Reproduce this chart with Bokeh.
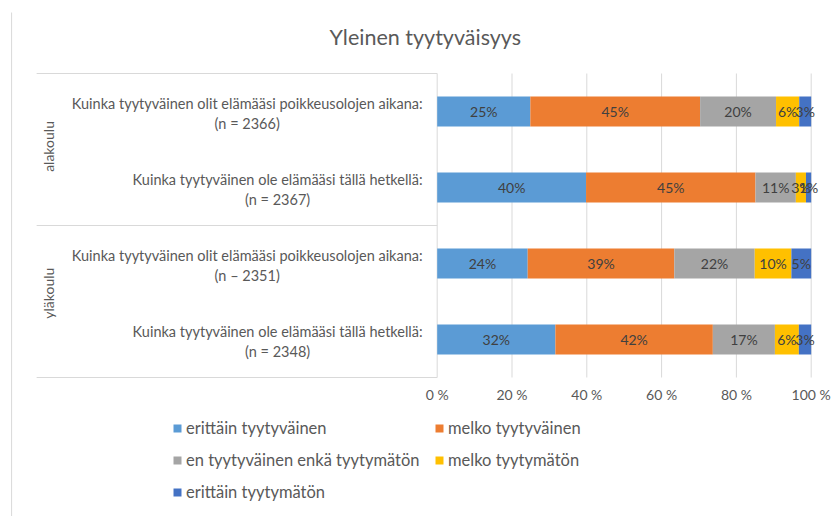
import math

from bokeh.plotting import figure
from bokeh.models import (ColumnDataSource, Range1d, FixedTicker, PrintfTickFormatter,
                          Legend, LegendItem)
from bokeh.core.properties import value
from bokeh.embed import file_html
from bokeh.resources import INLINE

# ---- data -------------------------------------------------------------
title_text = "Yleinen tyytyväisyys"
groups = ["alakoulu", "yläkoulu"]
questions = [
    "Kuinka tyytyväinen olit elämääsi poikkeusolojen aikana:",
    "Kuinka tyytyväinen ole elämääsi tällä hetkellä:",
    "Kuinka tyytyväinen olit elämääsi poikkeusolojen aikana:",
    "Kuinka tyytyväinen ole elämääsi tällä hetkellä:",
]
counts = ["(n = 2366)", "(n = 2367)", "(n \u2013 2351)", "(n = 2348)"]
answers = [
    "erittäin tyytyväinen",
    "melko tyytyväinen",
    "en tyytyväinen enkä tyytymätön",
    "melko tyytymätön",
    "erittäin tyytymätön",
]
# shares in percent, one list per answer, rows top to bottom
erittain_tyytyvainen = [24.9, 39.8, 24.2, 31.6]
melko_tyytyvainen = [45.4, 45.3, 39.2, 42.1]
ei_kumpikaan = [20.3, 10.8, 21.5, 16.6]
melko_tyytymaton = [6.2, 2.7, 9.8, 6.4]
erittain_tyytymaton = [3.2, 1.4, 5.3, 3.3]
colors = ["#5B9BD5", "#ED7D31", "#A5A5A5", "#FFC000", "#4472C4"]
x_ticks = [0, 20, 40, 60, 80, 100]

series = [erittain_tyytyvainen, melko_tyytyvainen, ei_kumpikaan,
          melko_tyytymaton, erittain_tyytymaton]
rows = list(range(len(questions)))

FONT = "Lato"
TEXT_DARK = "#404040"
TEXT_MID = "#595959"
LINE = "#d9d9d9"

# ---- figure -----------------------------------------------------------
W, H = 831, 516
TOP = 58                         # border above the drawing area (title)
X0_PX, PX_PER_PCT = 436.7, 3.74  # where 0 % sits, and pixels per percent
ROW0_PX, ROW_PX = 111.0, 76.0    # centre of first row, row pitch

x_start = -X0_PX / PX_PER_PCT
x_end = (W - X0_PX) / PX_PER_PCT
y_top = (TOP - ROW0_PX) / ROW_PX
y_bottom = (H - ROW0_PX) / ROW_PX
y_plot_bottom = rows[-1] + 0.5

p = figure(width=W, height=H, output_backend="svg", toolbar_location=None,
           x_range=Range1d(x_start, x_end), y_range=Range1d(y_bottom, y_top),
           y_axis_location=None)
p.min_border_left = 0
p.min_border_right = 0
p.min_border_top = TOP
p.min_border_bottom = 0
p.outline_line_color = None
p.xgrid.visible = False
p.ygrid.visible = False

p.title.text = title_text
p.title.align = "left"
p.title.offset = 329
p.title.standoff = 18
p.title.text_font = FONT
p.title.text_font_size = "21.5px"
p.title.text_font_style = "normal"
p.title.text_color = TEXT_MID

# x axis: labels only, pinned under the bars
ax = p.xaxis[0]
ax.fixed_location = y_plot_bottom
ax.ticker = FixedTicker(ticks=x_ticks)
ax.formatter = PrintfTickFormatter(format="%d %%")
ax.axis_line_color = None
ax.major_tick_line_color = None
ax.minor_tick_line_color = None
ax.major_label_standoff = 2
ax.major_label_text_font = FONT
ax.major_label_text_font_size = "14px"
ax.major_label_text_color = TEXT_MID

# vertical gridlines over the plotting area
p.segment(x0=x_ticks, y0=[-0.5] * len(x_ticks), x1=x_ticks, y1=[y_plot_bottom] * len(x_ticks),
          line_color=LINE, line_width=1)

# category-axis frame on the left
p.segment(x0=[-107.1] * 3, y0=[-0.5, 1.5, 3.5], x1=[0] * 3, y1=[-0.5, 1.5, 3.5],
          line_color=LINE, line_width=1)
# outer chart border
p.segment(x0=[-113.8], y0=[(12 - ROW0_PX) / ROW_PX], x1=[-113.8], y1=[(H - ROW0_PX) / ROW_PX],
          line_color=LINE, line_width=1, level="overlay")

# stacked bars
BAR_H = 30.0 / ROW_PX
legend_items = []
left = [0.0] * len(rows)
lab_x, lab_y, lab_t = [], [], []
for name, vals, col in zip(answers, series, colors):
    right = [l + v for l, v in zip(left, vals)]
    src = ColumnDataSource(dict(y=rows, left=left, right=right))
    r = p.hbar(y="y", left="left", right="right", height=BAR_H, source=src,
               fill_color=col, line_color=None)
    legend_items.append(LegendItem(label=name, renderers=[r]))
    for i, v in enumerate(vals):
        lab_x.append(left[i] + v / 2)
        lab_y.append(rows[i])
        lab_t.append(f"{round(v)}%")
    left = right

p.text(x=lab_x, y=lab_y, text=lab_t, text_font=value(FONT), text_font_size="14px",
       text_color=TEXT_DARK, text_align="center", text_baseline="middle")

# category labels (two lines, centred on each other, right aligned as a block)
cat_text = [q + "\n" + n for q, n in zip(questions, counts)]
p.text(x=[-3.9] * len(rows), y=rows, text=cat_text, text_font=value(FONT),
       text_font_size="14.5px", text_color=TEXT_MID, text_align="center",
       text_baseline="middle", text_line_height=1.2, anchor=value("center_right"),
       y_offset=2)

# group labels, rotated
p.text(x=[-103.9] * len(groups), y=[0.46, 2.39], text=groups, text_font=value(FONT),
       text_font_size="14px", text_color=TEXT_MID, text_align="center",
       text_baseline="middle", angle=math.pi / 2)

# legend, two columns under the axis labels
legend = Legend(items=legend_items, orientation="horizontal", ncols=2,
                location=(172, 14), glyph_width=10, glyph_height=10,
                label_standoff=4, label_width=236, label_height=20, spacing=12,
                padding=0, margin=0, border_line_color=None, background_fill_alpha=0,
                label_text_font=FONT, label_text_font_size="16.5px",
                label_text_color=TEXT_MID)
p.add_layout(legend)

open("out.html", "w").write(file_html(p, INLINE))
